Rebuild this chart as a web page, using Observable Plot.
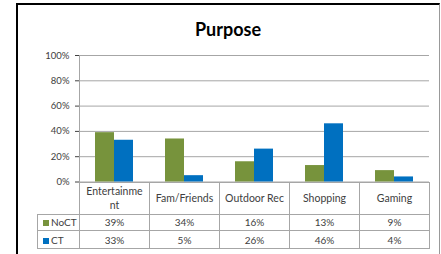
<!DOCTYPE html>
<html>
<head>
<meta charset="utf-8">
<script src="https://cdn.jsdelivr.net/npm/d3@7"></script>
<script src="https://cdn.jsdelivr.net/npm/@observablehq/plot@0.6"></script>
<style>
  html, body { margin: 0; padding: 0; background: #fff; }
  #wrap { position: relative; width: 441px; height: 254px; overflow: hidden; font-family: Lato, "Open Sans", sans-serif; }
  #frame { position: absolute; left: 16px; top: 3px; width: 424px; height: 270px; box-sizing: border-box;
           border-left: 2.5px solid #000; border-top: 2.5px solid #000; border-right: 1px solid #999; }
  #title { position: absolute; left: 16px; width: 424px; top: 20px; text-align: center; font-weight: bold;
           font-size: 18px; line-height: 18px; color: #000; }
  #chart { position: absolute; left: 0; top: 0; }
  #chart g[aria-label="y-axis tick"] { stroke: #a6a6a6; }
  #chart g[aria-label="frame"], #chart g[aria-label="frame"] * { stroke: #a6a6a6; }
  #table { position: absolute; left: 37px; top: 181.5px; border-collapse: collapse; table-layout: fixed;
           font-size: 10px; color: #404040; }
  #table td { border: 1px solid #a6a6a6; text-align: center; padding: 0; overflow: hidden; }
  #table td.corner { border-top: none; border-left: none; }
  #table td.key { text-align: left; padding-left: 5px; white-space: nowrap; }
  #table .sw { display: inline-block; width: 6px; height: 6px; margin-right: 2px; vertical-align: 0px; }
  #table td.head { white-space: pre-line; line-height: 14px; font-size: 10.5px; }
</style>
</head>
<body>
<div id="wrap">
  <div id="frame"></div>
  <div id="title">Purpose</div>
  <div id="chart"></div>
  <table id="table"></table>
</div>
<script>
const categories = ["Entertainment", "Fam/Friends", "Outdoor Rec", "Shopping", "Gaming"];
const categoryLabels = ["Entertainme\nnt", "Fam/Friends", "Outdoor Rec", "Shopping", "Gaming"];
const series = ["NoCT", "CT"];
const noCT = [0.39, 0.34, 0.16, 0.13, 0.09];
const ct = [0.33, 0.05, 0.26, 0.46, 0.04];
const seriesColors = ["#77933C", "#0070C0"];
const yTicks = [0, 0.2, 0.4, 0.6, 0.8, 1];

const values = {NoCT: noCT, CT: ct};
const data = series.flatMap(s => categories.map((c, i) => ({category: c, series: s, value: values[s][i]})));
const pct = d3.format(".0%");

const chart = Plot.plot({
  width: 441,
  height: 190,
  marginLeft: 79,
  marginRight: 12,
  marginTop: 55,
  marginBottom: 8.5,
  style: {fontFamily: "Lato, 'Open Sans', sans-serif", fontSize: "9.5px", color: "#404040", background: "transparent"},
  fx: {domain: categories, padding: 0, axis: null, label: null},
  x: {domain: series, paddingInner: 0, paddingOuter: 0.755, axis: null, label: null},
  y: {domain: [0, 1], ticks: yTicks, tickFormat: pct, tickSize: 4, tickPadding: 6, line: true, label: null},
  color: {domain: series, range: seriesColors},
  marks: [
    Plot.ruleY(yTicks, {stroke: "#a6a6a6", strokeWidth: 1}),
    Plot.barY(data, {fx: "category", x: "series", y: "value", fill: "series"})
  ]
});
document.getElementById("chart").appendChild(chart);

// data table under the chart
const table = document.getElementById("table");
const colW = (441 - 12 - 79) / categories.length;
const cg = document.createElement("colgroup");
const c0 = document.createElement("col"); c0.style.width = "42px"; cg.appendChild(c0);
categories.forEach(() => { const c = document.createElement("col"); c.style.width = colW + "px"; cg.appendChild(c); });
table.appendChild(cg);
const hr = document.createElement("tr"); hr.style.height = "32px";
const corner = document.createElement("td"); corner.className = "corner"; hr.appendChild(corner);
categoryLabels.forEach(l => { const td = document.createElement("td"); td.className = "head"; td.textContent = l; hr.appendChild(td); });
table.appendChild(hr);
series.forEach((s, si) => {
  const tr = document.createElement("tr"); tr.style.height = si === 0 ? "16.5px" : "18px";
  const k = document.createElement("td"); k.className = "key";
  const sw = document.createElement("span"); sw.className = "sw"; sw.style.background = seriesColors[si];
  k.appendChild(sw); k.appendChild(document.createTextNode(s));
  tr.appendChild(k);
  values[s].forEach(v => { const td = document.createElement("td"); td.textContent = pct(v); tr.appendChild(td); });
  table.appendChild(tr);
});
</script>
</body>
</html>
